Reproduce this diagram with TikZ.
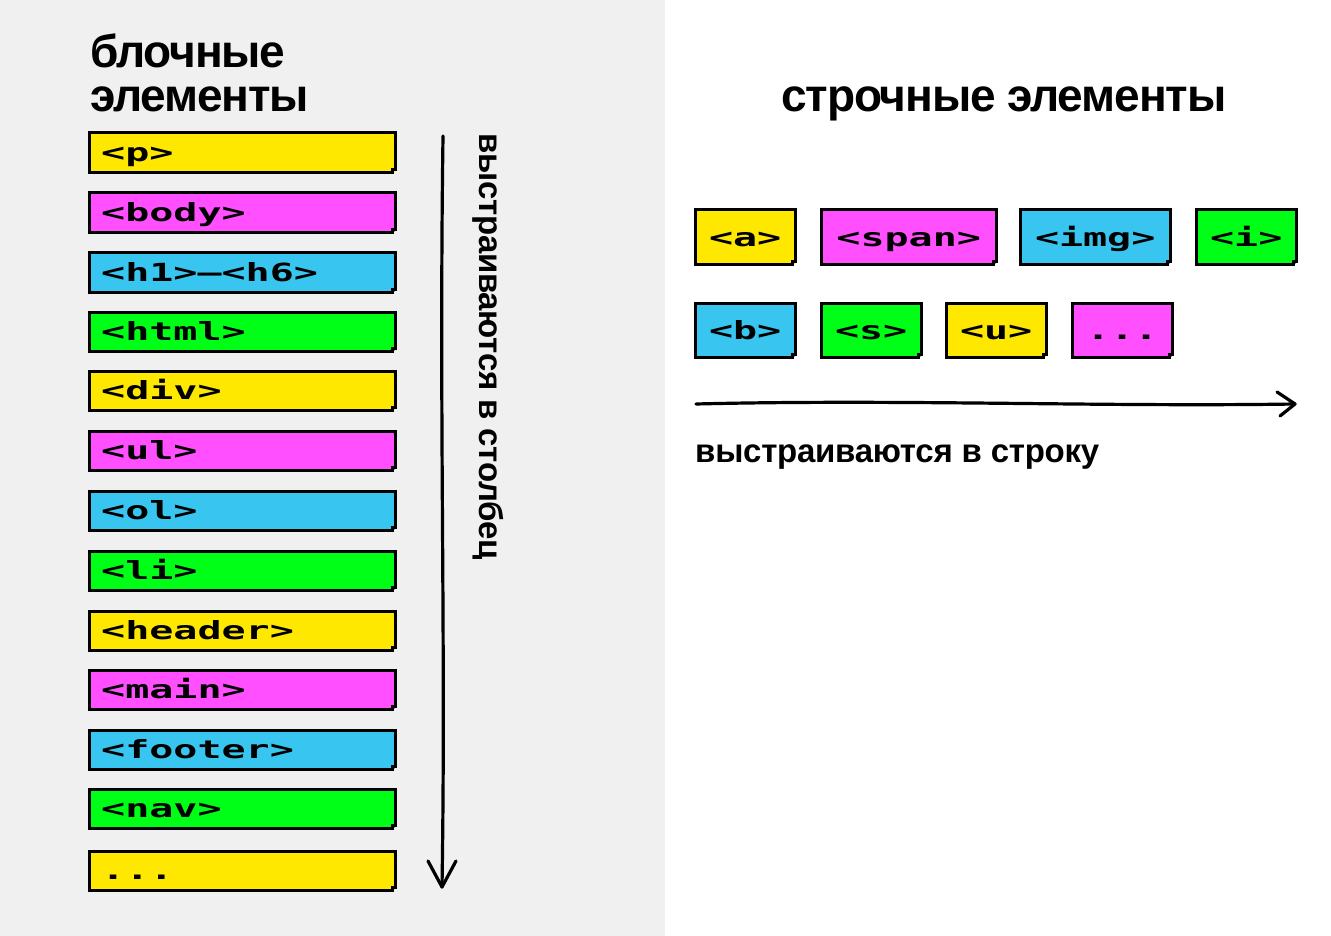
\documentclass[tikz,border=0pt]{standalone}
\usepackage{fontspec}
\setmainfont{Liberation Sans}
\newfontfamily\pixfont{DejaVu Sans Mono Bold}[FakeStretch=1.6]
\newfontfamily\headfont{Liberation Sans Bold}[LetterSpace=-2.5]
\newfontfamily\labfont{Liberation Sans Bold}[LetterSpace=-0.8]
\definecolor{yel}{HTML}{FFE800}
\definecolor{mag}{HTML}{FF4FFF}
\definecolor{cya}{HTML}{38C6F0}
\definecolor{grn}{HTML}{00FF17}
\definecolor{panel}{HTML}{F0F0F0}
\tikzset{
  tagbox/.style={fill=#1, anchor=north west, inner xsep=12pt, inner ysep=0pt, align=left,
    font=\pixfont\fontsize{25}{25}\selectfont},
  blk/.style={tagbox=#1, text width=282pt, minimum height=39pt, text height=19pt, text depth=1pt},
  inl/.style={tagbox=#1, minimum height=54pt, align=center, text height=19pt, text depth=1pt},
  bord/.style={line width=3pt, line join=miter},
  hand/.style={line width=3.2pt, line cap=round, line join=round},
}
\newcommand{\pixborder}[1]{%
  \draw[bord] (#1.north west) -- (#1.north east) -- ([yshift=3pt]#1.south east) -- ([shift={(-3pt,3pt)}]#1.south east) -- ([xshift=-3pt]#1.south east) -- (#1.south west) -- cycle;}
\begin{document}
\begin{tikzpicture}[x=1pt,y=-1pt]
\useasboundingbox (0,0) rectangle (1331,936);
\fill[white] (0,0) rectangle (1331,936);
\fill[panel] (0,0) rectangle (665,936);
% headings
\node[anchor=base west, font=\headfont\fontsize{46}{45}\selectfont, align=left, inner sep=0pt] (h1) at (90,112) {блочные\\[-0.5pt]элементы};
\node[anchor=base west, font=\headfont\fontsize{46}{45}\selectfont, inner sep=0pt] (h2) at (781,112) {строчные элементы};
% block boxes
\node[blk=yel] (p) at (89,133) {<p>};
\node[blk=mag] (body) at (89,193) {<body>};
\node[blk=cya] (hx) at (89,253) {<h1>—<h6>};
\node[blk=grn] (html) at (89,312) {<html>};
\node[blk=yel] (div) at (89,371) {<div>};
\node[blk=mag] (ul) at (89,431) {<ul>};
\node[blk=cya] (ol) at (89,491) {<ol>};
\node[blk=grn] (li) at (89,551) {<li>};
\node[blk=yel] (header) at (89,611) {<header>};
\node[blk=mag] (main) at (89,670) {<main>};
\node[blk=cya] (footer) at (89,730) {<footer>};
\node[blk=grn] (nav) at (89,789) {<nav>};
\node[blk=yel] (bdots) at (89,851) {...};
\foreach \n in {p,body,hx,html,div,ul,ol,li,header,main,footer,nav,bdots} {\pixborder{\n}}
% inline boxes
\node[inl=yel, minimum width=100pt] (a) at (695,210) {<a>};
\node[inl=mag, minimum width=175pt] (span) at (821,210) {<span>};
\node[inl=cya, minimum width=150pt] (img) at (1020,210) {<img>};
\node[inl=grn, minimum width=100pt] (i) at (1196,210) {<i>};
\node[inl=cya, minimum width=100pt] (b) at (695,303) {<b>};
\node[inl=grn, minimum width=100pt] (s) at (821,303) {<s>};
\node[inl=yel, minimum width=100pt] (u) at (946,303) {<u>};
\node[inl=mag, minimum width=100pt] (idots) at (1072,303) {...};
\foreach \n in {a,span,img,i,b,s,u,idots} {\pixborder{\n}}
% vertical arrow
\coordinate (vs) at (443,136);
\coordinate (ve) at (442,887);
\draw[hand] (vs) .. controls (439,420) and (446,640) .. (ve);
\draw[hand] ([shift={(-14,-26)}]ve) -- (ve) -- ([shift={(14,-26)}]ve);
\node[rotate=-90, anchor=base west, font=\labfont\fontsize{33}{33}\selectfont, inner sep=0pt] (vlab) at (479,133) {выстраиваются в столбец};
% horizontal arrow
\coordinate (hs) at (696,404);
\coordinate (he) at (1295,404);
\draw[hand] (hs) .. controls (900,399) and (1100,407) .. (he);
\draw[hand] ([shift={(-18,-12)}]he) -- (he) -- ([shift={(-15,12)}]he);
\node[anchor=base west, font=\labfont\fontsize{33}{33}\selectfont, inner sep=0pt] (hlab) at (695,462) {выстраиваются в строку};
\end{tikzpicture}
\end{document}
